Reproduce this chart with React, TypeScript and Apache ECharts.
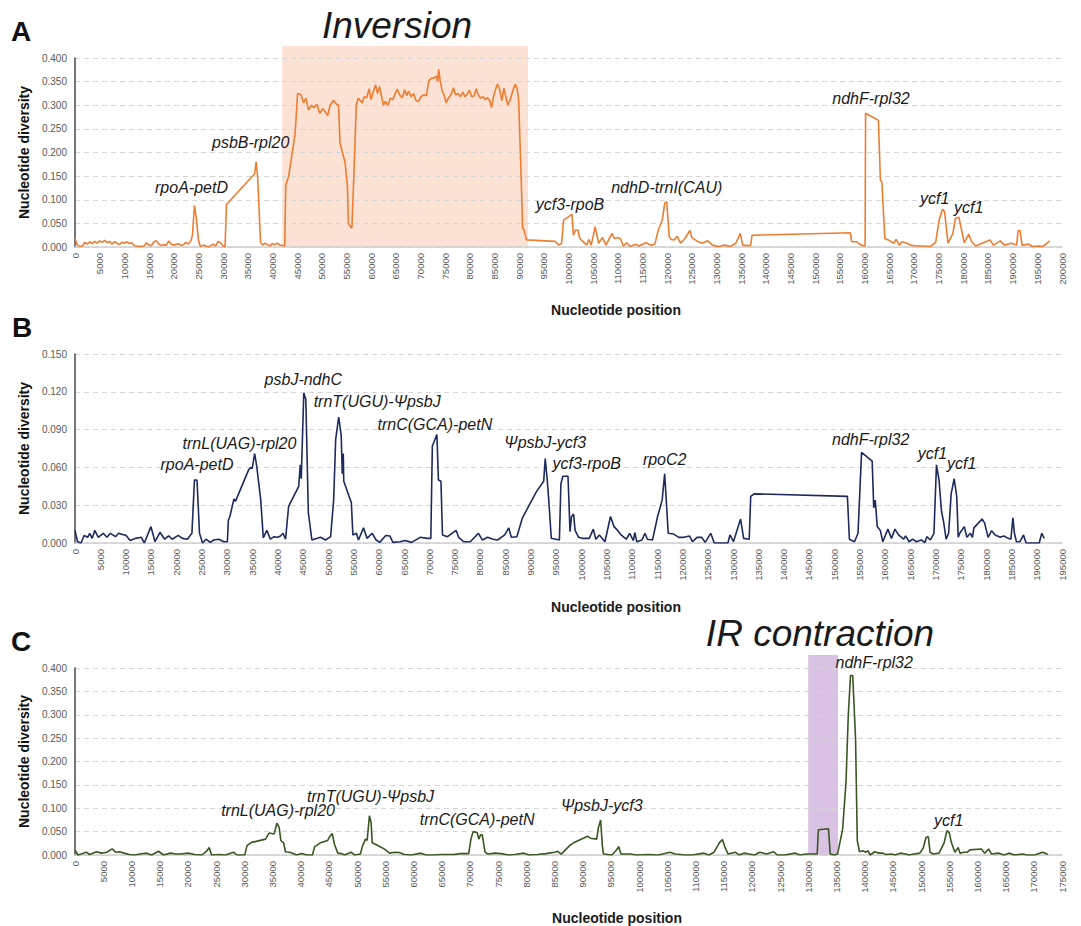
import React, { useEffect, useRef } from "react";
import * as echarts from "echarts";

// ---------- Panel A (positions in kb, nucleotide diversity) ----------
const posA = [0,0.5,1,1.5,2,2.5,3,3.5,4,4.5,5,5.5,6,6.5,7,7.5,8,8.5,9,9.5,10,10.5,11,11.5,12,13,14,14.5,15,15.5,16,16.5,17,17.5,18,18.5,19,19.5,20,21,21.5,22,22.5,23,23.5,23.8,24.2,24.6,25,25.4,26,26.5,27,27.5,28,28.5,29,29.5,30,30.4,30.7,36.4,36.7,37.0,37.6,38,38.5,39,39.5,40,40.5,41,41.5,42,42.5,42.7,43.3,44.6,45.1,45.8,46.3,46.8,47.3,47.9,48.4,49.0,49.6,50.2,50.8,51.2,51.7,52.4,53.0,53.4,53.7,54.7,55.2,55.4,55.8,56.1,56.5,57.0,57.4,57.8,58.2,58.6,59.1,59.6,60.0,60.5,60.9,61.3,61.7,62.1,62.5,62.9,63.4,63.9,64.4,64.9,65.3,65.8,66.3,66.8,67.2,67.6,68.1,68.6,69.1,69.6,70.1,70.6,71.2,71.7,72.2,72.8,73.2,73.5,73.7,74.0,74.4,74.8,75.2,75.7,76.2,76.7,77.1,77.6,78.1,78.6,79.0,79.5,79.9,80.4,80.9,81.3,81.7,82.2,82.7,83.1,83.6,84.1,84.4,84.8,85.2,85.6,86.0,86.5,86.9,87.3,87.7,88.2,88.7,89.2,89.6,89.9,90.4,90.7,91.0,91.5,97.3,98.0,98.6,99.0,100.7,101.0,101.4,101.9,102.3,103.0,103.7,104.1,104.6,105.4,106.1,106.9,107.6,108.8,109.3,110.1,110.6,111.1,111.8,112.5,113.6,114.3,115.7,116.7,117.5,118.2,119.0,119.5,119.9,120.4,120.8,121.4,122.0,122.7,123.6,124.6,125.0,125.7,126.3,127.1,128.2,129.2,130.3,131.7,132.8,133.9,134.8,135.3,136.4,136.9,137.2,157.1,157.4,158.4,159.3,160.1,160.2,162.8,163.2,163.5,164.1,164.8,165.9,166.4,167.0,167.6,168.6,169.3,170.4,171.8,173.3,174.4,175.1,175.8,176.2,176.9,177.9,178.4,179.1,179.5,180.2,181.1,181.7,182.5,185.4,186.1,187.5,188.3,189.7,190.8,191.1,191.5,191.9,193.3,194.0,195.4,196.1,197.5];
const divA = [0.018,0.004,0.001,0.002,0.010,0.006,0.011,0.007,0.012,0.008,0.013,0.010,0.014,0.009,0.012,0.006,0.011,0.008,0.005,0.010,0.008,0.011,0.007,0.009,0.003,0.001,0.002,0.009,0.004,0.003,0.011,0.013,0.006,0.003,0.005,0.004,0.013,0.006,0.004,0.007,0.003,0.005,0.010,0.006,0.014,0.025,0.088,0.060,0.015,0.001,0.004,0.002,0.000,0.003,0.006,0.002,0.012,0.009,0.002,0.000,0.090,0.155,0.180,0.150,0.010,0.004,0.008,0.005,0.002,0.007,0.005,0.008,0.004,0.003,0.002,0.130,0.150,0.240,0.325,0.322,0.305,0.315,0.290,0.300,0.295,0.302,0.283,0.293,0.285,0.278,0.300,0.310,0.302,0.300,0.220,0.180,0.130,0.050,0.043,0.040,0.150,0.300,0.315,0.310,0.305,0.318,0.316,0.335,0.312,0.330,0.343,0.325,0.340,0.320,0.300,0.308,0.300,0.315,0.312,0.325,0.334,0.322,0.316,0.333,0.320,0.330,0.318,0.325,0.310,0.308,0.318,0.322,0.320,0.352,0.357,0.358,0.362,0.350,0.376,0.352,0.330,0.322,0.305,0.316,0.322,0.337,0.322,0.325,0.318,0.328,0.318,0.323,0.332,0.318,0.320,0.335,0.322,0.315,0.318,0.312,0.316,0.308,0.295,0.318,0.333,0.345,0.335,0.310,0.336,0.318,0.300,0.312,0.330,0.345,0.335,0.310,0.150,0.040,0.036,0.015,0.012,0.004,0.008,0.057,0.069,0.025,0.036,0.036,0.018,0.011,0.004,0.016,0.004,0.043,0.008,0.020,0.004,0.029,0.018,0.020,0.016,0.002,0.009,0.001,0.006,0.002,0.009,0.004,0.006,0.036,0.057,0.093,0.096,0.022,0.016,0.015,0.023,0.008,0.018,0.035,0.020,0.015,0.011,0.008,0.013,0.004,0.001,0.004,0.001,0.008,0.029,0.004,0.003,0.003,0.025,0.030,0.011,0.011,0.004,0.002,0.283,0.268,0.142,0.138,0.018,0.015,0.008,0.016,0.004,0.011,0.008,0.004,0.002,0.002,0.001,0.010,0.057,0.080,0.075,0.008,0.029,0.061,0.063,0.043,0.009,0.027,0.011,0.002,0.015,0.004,0.013,0.004,0.008,0.004,0.035,0.035,0.004,0.006,0.001,0.002,0.001,0.013];

// ---------- Panel B ----------
const posB = [0,0.5,1.2,1.8,2.5,2.9,3.4,3.9,4.6,5.6,6.3,7.0,8.0,8.6,9.7,10.0,10.9,12.0,13.1,13.7,15.0,15.8,16.8,17.7,18.5,19.2,20.4,21.2,22.2,23.1,23.6,24.1,24.6,25.2,25.9,26.7,27.4,28.4,29.4,30.1,30.3,30.6,31.4,31.7,34.3,34.7,35.0,35.5,35.9,36.7,37.2,37.9,38.6,39.3,40.0,40.6,41.1,41.6,42.2,44.2,44.5,44.7,45.2,45.6,46.1,46.8,48.5,49.5,50.5,51.1,51.5,52.1,52.6,52.8,53.0,53.1,54.6,54.9,55.6,56.0,57.0,57.7,58.7,59.5,60.2,61.4,62.2,62.8,64.2,65.2,66.5,68.2,69.6,70.3,70.6,71.5,71.8,72.3,72.6,73.6,75.3,75.8,76.8,78.1,79.7,80.5,81.5,82.6,83.5,84.9,85.7,86.2,87.3,88.4,90.0,91.2,92.6,92.9,93.3,93.6,94.1,95.0,95.7,96.0,96.4,97.4,97.8,98.1,98.5,98.8,99.5,100.2,101.6,102.4,102.9,103.6,104.7,105.8,106.5,107.2,107.9,108.9,109.6,110.3,110.6,111.0,112.0,112.6,113.1,114.1,115.1,116.0,116.5,117.2,118.2,119.3,120.3,121.4,122.0,122.9,123.8,124.5,125.6,126.3,129.0,129.4,130.1,131.5,132.1,133.2,133.5,134.2,152.6,153.0,154.0,154.7,155.4,157.5,157.8,158.1,158.5,159.1,159.6,160.6,161.3,162.0,162.7,163.7,164.1,164.8,165.5,166.2,167.2,167.9,168.3,169.0,169.7,170.2,170.7,171.2,171.6,172.1,172.6,173.1,173.7,174.2,174.5,174.8,175.7,176.2,176.9,177.3,177.6,179.2,179.7,180.4,181.1,181.8,182.8,183.5,184.4,184.9,185.3,185.6,186.0,186.7,187.4,187.9,190.5,191.0,191.5];
const divB = [0.010,0.001,0.000,0.006,0.0045,0.0077,0.0037,0.010,0.0045,0.0077,0.0045,0.0077,0.005,0.0077,0.0064,0.0064,0.002,0.0037,0.0045,0.000,0.013,0.001,0.0085,0.003,0.0056,0.003,0.006,0.0037,0.003,0.0077,0.050,0.050,0.0077,0.000,0.003,0.0005,0.0024,0.003,0.001,0.001,0.018,0.021,0.035,0.033,0.058,0.060,0.059,0.071,0.061,0.034,0.004,0.010,0.003,0.005,0.0045,0.0056,0.0077,0.003,0.029,0.045,0.062,0.051,0.119,0.114,0.024,0.0024,0.0045,0.0024,0.005,0.034,0.082,0.100,0.085,0.055,0.071,0.049,0.032,0.0064,0.0077,0.0024,0.012,0.0037,0.0077,0.0024,0.0005,0.006,0.0056,0.0005,0.001,0.002,0.0005,0.0045,0.0037,0.0037,0.077,0.086,0.050,0.049,0.0064,0.005,0.010,0.0045,0.001,0.001,0.0077,0.0024,0.0045,0.003,0.0024,0.0064,0.012,0.0045,0.005,0.020,0.032,0.041,0.049,0.067,0.050,0.034,0.0037,0.003,0.0024,0.047,0.053,0.053,0.009,0.021,0.023,0.010,0.0045,0.0037,0.0037,0.011,0.003,0.0064,0.001,0.021,0.013,0.010,0.0064,0.003,0.0077,0.002,0.0083,0.001,0.0024,0.0077,0.003,0.0024,0.021,0.034,0.055,0.0077,0.0072,0.0045,0.0045,0.0056,0.001,0.0045,0.0045,0.0005,0.0077,0.000,0.000,0.0064,0.0011,0.019,0.0037,0.003,0.037,0.039,0.037,0.003,0.001,0.0077,0.072,0.065,0.028,0.034,0.013,0.010,0.001,0.011,0.0037,0.011,0.0064,0.003,0.0056,0.001,0.003,0.001,0.0024,0.0003,0.005,0.0024,0.0077,0.062,0.050,0.025,0.017,0.003,0.0077,0.039,0.051,0.037,0.0045,0.0077,0.013,0.0045,0.0077,0.0045,0.012,0.019,0.016,0.0045,0.0098,0.0064,0.0045,0.0056,0.0037,0.003,0.020,0.0077,0.001,0.001,0.0064,0.000,0.000,0.0077,0.0037];

// ---------- Panel C ----------
const posC = [0,0.5,1.1,2.0,2.6,3.8,4.7,5.6,6.6,7.2,7.9,8.7,9.6,10.6,11.5,12.7,13.6,14.8,15.7,16.9,17.9,18.8,20.0,21.2,22.5,23.4,23.8,24.2,25.5,26.7,28.1,28.7,30.1,30.5,31.3,33.8,34.4,35.3,35.8,36.2,36.5,37.0,37.3,38.1,39.3,40.2,41.1,42.1,42.5,43.5,44.8,45.1,45.6,46.0,46.6,47.2,47.8,48.9,49.6,50.6,51.0,51.5,51.8,52.2,52.5,52.7,53.6,54.8,55.8,56.7,57.6,58.4,59.7,61.3,62.2,63.4,65.2,67.1,68.3,69.8,70.2,70.6,71.3,71.6,71.9,72.2,72.7,73.2,74.4,75.6,76.8,78.0,79.6,80.5,82.0,83.5,85.0,85.6,86.2,87.8,88.4,90.9,91.4,92.5,92.8,93.2,93.5,93.7,95.2,95.9,96.4,96.8,98.4,99.6,101.5,103.4,105.5,106.4,108.2,109.5,111.5,112.4,113.3,114.3,114.8,115.2,115.8,117.1,117.7,118.6,119.5,120.5,121.4,122.6,123.9,124.5,125.8,127.7,128.6,129.6,130.5,131.6,131.8,133.6,133.9,134.6,135.2,136.1,136.7,137.1,137.5,137.9,138.4,138.7,139.1,139.7,140.2,140.6,141.0,141.8,142.6,143.2,143.8,144.8,145.4,146.3,147.3,147.9,148.8,149.8,150.4,150.9,151.3,151.6,152.2,153.2,154.1,154.6,155.0,155.4,156.0,156.6,156.9,157.6,158.2,158.7,160.7,161.3,162.0,162.5,163.8,164.7,165.6,166.6,168.1,168.7,170.2,171.5,172.0,172.5];
const divC = [0.011,0.000,0.002,0.006,0.001,0.007,0.004,0.006,0.013,0.006,0.007,0.004,0.001,0.000,0.002,0.004,0.000,0.008,0.000,0.004,0.002,0.002,0.004,0.001,0.000,0.009,0.016,0.000,0.001,0.000,0.006,0.000,0.000,0.020,0.027,0.034,0.047,0.045,0.068,0.059,0.031,0.026,0.007,0.006,0.000,0.003,0.000,0.000,0.018,0.026,0.031,0.038,0.046,0.023,0.004,0.003,0.000,0.006,0.000,0.002,0.020,0.034,0.031,0.084,0.070,0.026,0.021,0.013,0.004,0.006,0.005,0.001,0.000,0.004,0.000,0.000,0.001,0.001,0.003,0.003,0.034,0.050,0.048,0.034,0.043,0.043,0.006,0.002,0.004,0.003,0.000,0.001,0.004,0.000,0.001,0.003,0.006,0.008,0.002,0.021,0.026,0.040,0.036,0.034,0.059,0.075,0.020,0.002,0.000,0.009,0.018,0.002,0.002,0.000,0.001,0.000,0.006,0.002,0.000,0.000,0.004,0.000,0.006,0.027,0.033,0.018,0.002,0.006,0.000,0.004,0.002,0.000,0.006,0.002,0.007,0.000,0.000,0.004,0.000,0.002,0.002,0.002,0.054,0.056,0.002,0.000,0.002,0.055,0.155,0.297,0.384,0.384,0.247,0.031,0.007,0.009,0.006,0.009,0.000,0.007,0.004,0.004,0.001,0.002,0.000,0.004,0.002,0.000,0.002,0.004,0.015,0.038,0.039,0.006,0.002,0.004,0.026,0.052,0.048,0.026,0.006,0.016,0.004,0.006,0.006,0.011,0.013,0.004,0.013,0.002,0.004,0.000,0.004,0.000,0.002,0.000,0.000,0.006,0.004,0.001];

// ---------- Region annotations ----------
const labelsA = ["rpoA-petD", "psbB-rpl20", "ycf3-rpoB", "ndhD-trnI(CAU)", "ndhF-rpl32", "ycf1", "ycf1"];
const labelPosA = [23.6, 35.6, 100.3, 119.9, 161.3, 174.2, 181.1];
const labelValA = [0.126, 0.221, 0.090, 0.126, 0.314, 0.103, 0.084];

const labelsB = ["rpoA-petD", "trnL(UAG)-rpl20", "psbJ-ndhC", "trnT(UGU)-ΨpsbJ", "trnC(GCA)-petN", "ΨpsbJ-ycf3", "ycf3-rpoB", "rpoC2", "ndhF-rpl32", "ycf1", "ycf1"];
const labelPosB = [24.1, 32.5, 45.1, 59.7, 71.1, 92.9, 101.1, 116.5, 157.2, 169.4, 175.2];
const labelValB = [0.0625, 0.0787, 0.130, 0.112, 0.094, 0.0795, 0.0628, 0.066, 0.0824, 0.0713, 0.0633];

const labelsC = ["trnL(UAG)-rpl20", "trnT(UGU)-ΨpsbJ", "trnC(GCA)-petN", "ΨpsbJ-ycf3", "ndhF-rpl32", "ycf1"];
const labelPosC = [36.0, 52.4, 71.3, 93.4, 141.7, 154.9];
const labelValC = [0.0945, 0.126, 0.0767, 0.105, 0.412, 0.073];

// shaded regions (kb)
const inversionRange = [42.0, 91.8];
const irRange = [130.0, 135.3];

const xMaxes = [200000, 195000, 175000];
const yMaxes = [0.4, 0.15, 0.4];
const yIntervals = [0.05, 0.03, 0.05];

const FONT = '"Liberation Sans", Arial, Helvetica, sans-serif';
const COLORS = ["#ED7D31", "#1C2A5E", "#385723"];

export default function App() {
  const ref = useRef<HTMLDivElement>(null);
  useEffect(() => {
    if (!ref.current) return;
    const chart = echarts.init(ref.current, null, { renderer: "svg" });
    const grids = [
      { left: 75, right: 19, top: 58, height: 189 },
      { left: 75, right: 19, top: 354, height: 189 },
      { left: 75, right: 19, top: 668, height: 187 },
    ];
    const toData = (p: number[], v: number[]) => p.map((x, i) => [Math.round(x * 1000), v[i]]);
    const seriesData = [toData(posA, divA), toData(posB, divB), toData(posC, divC)];

    chart.setOption({
      animation: false,
      backgroundColor: "#ffffff",
      textStyle: { fontFamily: FONT },
      grid: grids,
      xAxis: [0, 1, 2].map((i) => ({
        type: "value",
        gridIndex: i,
        min: 0,
        max: xMaxes[i],
        interval: 5000,
        axisLine: { show: true, onZero: false, lineStyle: { color: "#cfcfcf", width: 1.5 } },
        axisTick: { show: false },
        splitLine: { show: false },
        axisLabel: {
          rotate: 90,
          fontSize: 9.5,
          color: "#595959",
          margin: 6,
          fontFamily: FONT,
          showMaxLabel: true,
          showMinLabel: true,
          formatter: (v: number) => String(Math.round(v)),
        },
      })),
      yAxis: [0, 1, 2].map((i) => ({
        type: "value",
        gridIndex: i,
        min: 0,
        max: yMaxes[i],
        interval: yIntervals[i],
        name: "Nucleotide diversity",
        nameLocation: "middle",
        nameRotate: 90,
        nameGap: 39,
        nameTextStyle: { fontSize: 14, fontWeight: "bold", color: "#111", fontFamily: FONT },
        axisLine: { show: true, lineStyle: { color: "#4a4a4a", width: 1.5 } },
        axisTick: { show: false },
        splitLine: { show: true, lineStyle: { color: "#d6d6d6", type: [5, 4], width: 1 } },
        axisLabel: {
          fontSize: 10,
          color: "#595959",
          margin: 8,
          fontFamily: FONT,
          formatter: (v: number) => v.toFixed(3),
        },
      })),
      series: [0, 1, 2].map((i) => ({
        type: "line",
        xAxisIndex: i,
        yAxisIndex: i,
        data: seriesData[i],
        showSymbol: false,
        symbol: "none",
        lineStyle: { color: COLORS[i], width: 1.6 },
        z: 5,
      })),
    });

    const px = (g: number, x: number, y: number) =>
      chart.convertToPixel({ gridIndex: g } as any, [x * 1000, y]) as number[];

    const graphics: any[] = [];
    // shaded regions
    const invL = px(0, inversionRange[0], 0);
    const invR = px(0, inversionRange[1], 0);
    graphics.push({
      type: "rect",
      z: -1,
      shape: { x: invL[0], y: 46, width: invR[0] - invL[0], height: invL[1] - 46 },
      style: { fill: "#FBE2D5" },
      silent: true,
    });
    const irL = px(2, irRange[0], 0);
    const irR = px(2, irRange[1], 0);
    graphics.push({
      type: "rect",
      z: -1,
      shape: { x: irL[0], y: 655, width: irR[0] - irL[0], height: irL[1] - 655 },
      style: { fill: "#DAC2E4" },
      silent: true,
    });

    const addText = (text: string, x: number, y: number, size: number, italic: boolean, bold: boolean, rotation = 0) => {
      graphics.push({
        type: "text",
        x,
        y,
        rotation,
        z: 10,
        silent: true,
        style: {
          text,
          fontSize: size,
          fontFamily: FONT,
          fontStyle: italic ? "italic" : "normal",
          fontWeight: bold ? "bold" : "normal",
          fill: "#1a1a1a",
          align: "center",
          verticalAlign: "middle",
          textAlign: "center",
          textVerticalAlign: "middle",
        },
      });
    };

    const ann = [
      [labelsA, labelPosA, labelValA],
      [labelsB, labelPosB, labelValB],
      [labelsC, labelPosC, labelValC],
    ] as [string[], number[], number[]][];
    ann.forEach(([labs, ps, vs], g) => {
      labs.forEach((t, i) => {
        const p = px(g, ps[i], vs[i]);
        addText(t, p[0], p[1], 16, true, false);
      });
    });

    addText("Inversion", 397, 25, 37, true, false);
    addText("IR contraction", 820, 633, 37, true, false);

    // panel letters
    const letter = (t: string, x: number, y: number) => ({
      type: "text", x, y, z: 10,
      style: { text: t, fontSize: 28, fontWeight: "bold", fontFamily: FONT, fill: "#111", align: "left", verticalAlign: "middle", textAlign: "left", textVerticalAlign: "middle" },
    });
    graphics.push(letter("A", 11, 31), letter("B", 12, 327), letter("C", 11, 641));

    // x-axis titles
    addText("Nucleotide position", 616, 310, 14, false, true);
    addText("Nucleotide position", 616, 607, 14, false, true);
    addText("Nucleotide position", 617, 918, 14, false, true);

    chart.setOption({ graphic: graphics });

    return () => chart.dispose();
  }, []);
  return (
    <div
      ref={ref}
      style={{ position: "fixed", left: 0, top: 0, width: 1081, height: 926, background: "#fff" }}
    />
  );
}
